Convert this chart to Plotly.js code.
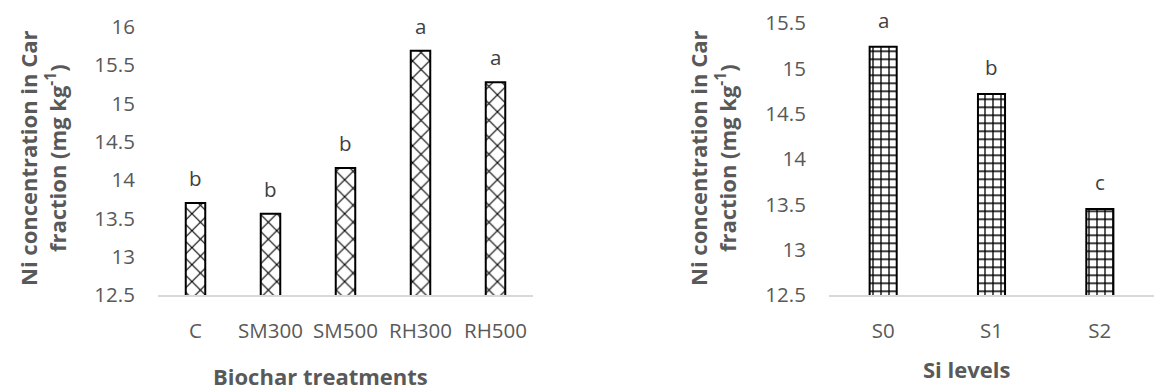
<!DOCTYPE html>
<html><head><meta charset="utf-8">
<script src="https://cdn.plot.ly/plotly-3.0.1.min.js"></script>
<style>html,body{margin:0;padding:0;background:#fff}#c{width:1166px;height:392px}</style>
</head><body><div id="c"></div>
<script>
const biocharCats = ["C","SM300","SM500","RH300","RH500"];
const biocharVals = [13.70,13.56,14.16,15.69,15.28];
const biocharLetters = ["b","b","b","a","a"];
const siCats = ["S0","S1","S2"];
const siVals = [15.24,14.72,13.45];
const siLetters = ["a","b","c"];
const yTitle = "Ni concentration in Car<br>fraction (mg kg<sup>-1</sup>)";

const W=1166,H=392;
const F = "Open Sans";
const tickGray = "#595959";
const TS = 20.5, TT = 22;

const traces = [
 {type:"bar", x:biocharCats, y:biocharVals, xaxis:"x", yaxis:"y", width:0.26,
  marker:{color:"white", line:{color:"black",width:2},
   pattern:{shape:"x", fgcolor:"black", bgcolor:"white", size:12, solidity:0.18}},
  hoverinfo:"skip"},
 {type:"bar", x:siCats, y:siVals, xaxis:"x2", yaxis:"y2", width:0.25,
  marker:{color:"white", line:{color:"black",width:2},
   pattern:{shape:"+", fgcolor:"black", bgcolor:"white", size:8, solidity:0.3}},
  hoverinfo:"skip"}
];

const ann = [];
biocharCats.forEach((c,i)=>ann.push({x:c,y:biocharVals[i],xref:"x",yref:"y",text:biocharLetters[i],showarrow:false,yanchor:"bottom",yshift:9,font:{family:F,size:TS,color:"#404040"}}));
siCats.forEach((c,i)=>ann.push({x:c,y:siVals[i],xref:"x2",yref:"y2",text:siLetters[i],showarrow:false,yanchor:"bottom",yshift:11,font:{family:F,size:TS,color:"#404040"}}));
ann.push({x:42/W,y:1-158/H,xref:"paper",yref:"paper",text:yTitle,textangle:-90,showarrow:false,font:{family:F,size:TT,color:tickGray,weight:"bold"},xanchor:"center",yanchor:"middle"});
ann.push({x:712/W,y:1-158/H,xref:"paper",yref:"paper",text:yTitle,textangle:-90,showarrow:false,font:{family:F,size:TT,color:tickGray,weight:"bold"},xanchor:"center",yanchor:"middle"});
ann.push({x:320/W,y:1-376/H,xref:"paper",yref:"paper",text:"<b>Biochar treatments</b>",showarrow:false,font:{family:F,size:TT,color:tickGray},xanchor:"center",yanchor:"middle"});
ann.push({x:966/W,y:1-369/H,xref:"paper",yref:"paper",text:"<b>Si levels</b>",showarrow:false,font:{family:F,size:TT,color:tickGray},xanchor:"center",yanchor:"middle"});

const xCommon = {showgrid:false, zeroline:false, showline:true, linecolor:"#d9d9d9", linewidth:1.5,
  ticks:"outside", ticklen:17, tickcolor:"rgba(0,0,0,0)", tickfont:{family:F,size:TS,color:tickGray}, fixedrange:true};
const yCommon = {showgrid:false, zeroline:false, showline:false, ticks:"outside", ticklen:18, tickcolor:"rgba(0,0,0,0)",
  tickfont:{family:F,size:TS,color:tickGray}, dtick:0.5, fixedrange:true};

const layout = {
 width:W, height:H, margin:{l:0,r:0,t:0,b:0}, paper_bgcolor:"white", plot_bgcolor:"white",
 showlegend:false,
 xaxis:Object.assign({}, xCommon, {domain:[158/W,533/W], anchor:"y"}),
 yaxis:Object.assign({}, yCommon, {domain:[1-295/H,1-27/H], range:[12.5,16], anchor:"x"}),
 xaxis2:Object.assign({}, xCommon, {domain:[829/W,1154/W], anchor:"y2"}),
 yaxis2:Object.assign({}, yCommon, {domain:[1-295/H,1-23.3/H], range:[12.5,15.5], anchor:"x2"}),
 annotations:ann
};
Plotly.newPlot("c", traces, layout, {staticPlot:true});
</script></body></html>
